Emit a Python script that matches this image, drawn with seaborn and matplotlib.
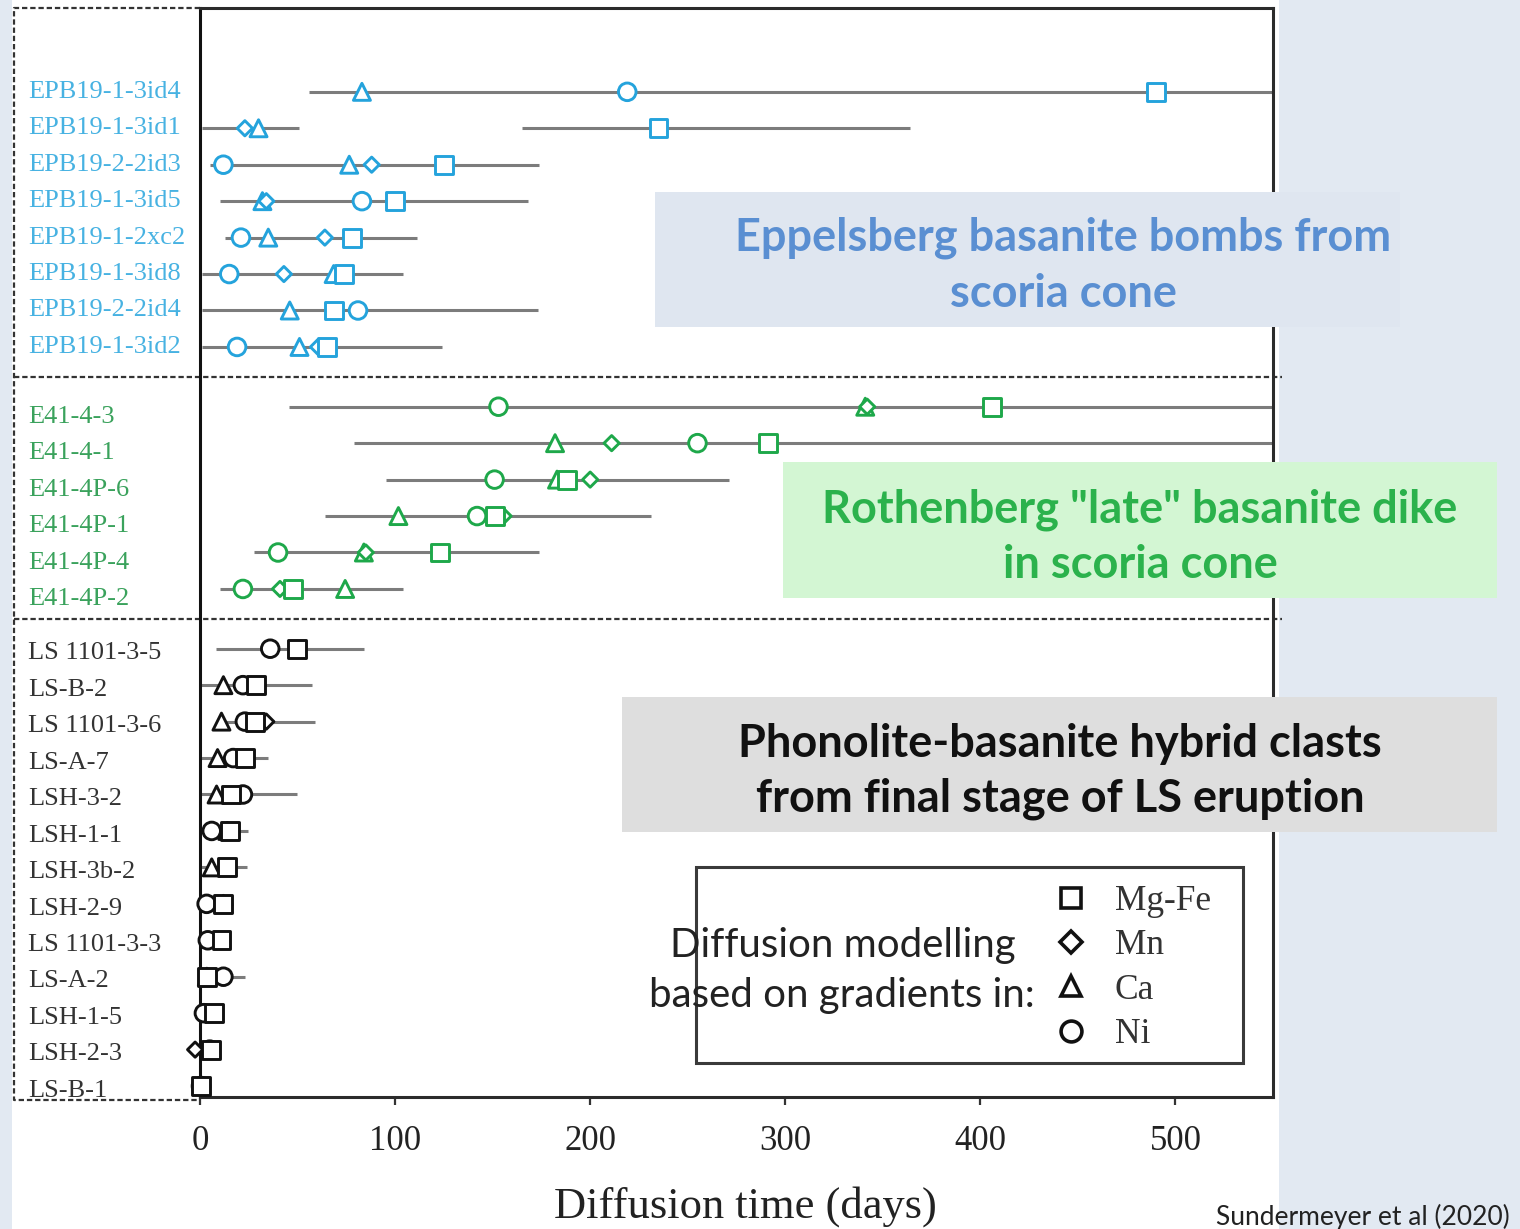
import numpy as np
import pandas as pd
import matplotlib
matplotlib.use("Agg")
import matplotlib.pyplot as plt
import matplotlib.transforms as mtransforms
from matplotlib.patches import Rectangle
from matplotlib.lines import Line2D
import seaborn as sns

nan = np.nan

# ---------------- data ----------------
samples = ["EPB19-1-3id4", "EPB19-1-3id1", "EPB19-2-2id3", "EPB19-1-3id5",
           "EPB19-1-2xc2", "EPB19-1-3id8", "EPB19-2-2id4", "EPB19-1-3id2",
           "E41-4-3", "E41-4-1", "E41-4P-6", "E41-4P-1", "E41-4P-4", "E41-4P-2",
           "LS 1101-3-5", "LS-B-2", "LS 1101-3-6", "LS-A-7", "LSH-3-2", "LSH-1-1",
           "LSH-3b-2", "LSH-2-9", "LS 1101-3-3", "LS-A-2", "LSH-1-5", "LSH-2-3", "LS-B-1"]
groups = ["Eppelsberg"] * 8 + ["Rothenberg"] * 6 + ["Phonolite"] * 13
group_order = ["Eppelsberg", "Rothenberg", "Phonolite"]

mgfe = [490, 235, 125, 100, 78, 74, 68.5, 65,
        406, 291, 188, 151, 123, 47.7,
        49.6, 28.7, 28, 23, 16, 15.4, 13.7, 12, 11, 3.5, 7, 5.5, 0.5]
mn = [nan, 23, 88, 34, 64, 43, nan, 60.5,
      342, 211, 200, 155.6, 85, 41,
      nan, nan, 34, nan, nan, nan, nan, nan, nan, nan, nan, -2.5, nan]
ca = [83, 30, 76.5, 32, 35, 68.5, 46, 51,
      341, 182, 183, 101.7, 84, 74.4,
      nan, 12, 11, 9, 8.5, 14, 6, 12, nan, 3.5, nan, nan, nan]
ni = [219, nan, 12, 83, 21, 15, 81, 19,
      153, 255, 151, 142, 40, 22,
      36, 22, 23, 17, 22, 6, nan, 3.4, 4, 12, 2, 5, 0.5]

range_lo = [56, 1, 5, 10, 13, 1, 1, 1,
            45.6, 79, 95.4, 64, 27.7, 10,
            8, 0, 9, 0, 0, 0, 0, 0, 0, 0, 0, 0, 0]
range_hi = [560, 51, 174, 168, 111, 104, 173, 124,
            560, 560, 271, 231, 174, 104,
            84, 57.4, 59, 35, 49.6, 24.6, 24, 17, 14, 23, 10, 8, 1]
range2_lo = [nan, 165] + [nan] * 25
range2_hi = [nan, 364] + [nan] * 25

elements = ["Mg-Fe", "Mn", "Ca", "Ni"]
x_ticks = [0, 100, 200, 300, 400, 500]

# ---------------- styles ----------------
marker_map = {"Mg-Fe": "s", "Mn": "D", "Ca": "^", "Ni": "o"}
size_map = {"Mg-Fe": 165, "Mn": 60, "Ca": 150, "Ni": 160}
marker_colors = {"Eppelsberg": "#24a3dc", "Rothenberg": "#1ea84a", "Phonolite": "#111111"}
label_colors = {"Eppelsberg": "#47b2e2", "Rothenberg": "#3aa25c", "Phonolite": "#333333"}
label_offsets = {"Eppelsberg": 0.0, "Rothenberg": 0.28, "Phonolite": 0.13}

W, H = 1520, 1229
def fx(px):
    return px / W
def fy(py):
    return 1 - py / H

sns.set_theme(style="white")
plt.rcParams["font.family"] = ["DejaVu Sans"]

fig = plt.figure(figsize=(W / 100, H / 100), dpi=100)
fig.patch.set_facecolor("#e2e9f2")
fig.add_artist(Rectangle((fx(12), 0), fx(1279) - fx(12), 1, transform=fig.transFigure,
                         facecolor="white", edgecolor="none", zorder=-10))

ax = fig.add_axes([fx(200), fy(1097), fx(1273) - fx(200), fy(8) - fy(1097)])
ax.set_facecolor("white")

# row positions with gaps between groups
gidx = np.array([group_order.index(g) for g in groups])
ypos = np.arange(len(samples)) + 0.64 * gidx

df = pd.DataFrame({"sample": samples, "group": groups, "y": ypos,
                   "Mg-Fe": mgfe, "Mn": mn, "Ca": ca, "Ni": ni,
                   "lo": range_lo, "hi": range_hi, "lo2": range2_lo, "hi2": range2_hi})

# range lines
ax.hlines(df["y"], df["lo"], df["hi"], color="#7c7c7c", lw=2.2, zorder=1)
seg2 = df.dropna(subset=["lo2"])
ax.hlines(seg2["y"], seg2["lo2"], seg2["hi2"], color="#7c7c7c", lw=2.2, zorder=1)

long = df.melt(id_vars=["sample", "group", "y"], value_vars=elements,
               var_name="element", value_name="time").dropna(subset=["time"])

for el in ["Ni", "Ca", "Mn", "Mg-Fe"]:
    sub = long[long["element"] == el]
    sns.scatterplot(data=sub, x="time", y="y", hue="group", palette=marker_colors,
                    marker=marker_map[el], s=size_map[el], legend=False, ax=ax,
                    clip_on=False, zorder=3)
    coll = ax.collections[-1]
    fc = coll.get_facecolors()
    coll.set_edgecolors(fc)
    coll.set_facecolors("white")
    coll.set_linewidths(2.1)

ax.set_xlim(0, 550)
ylo = ypos[-1] + 0.30
yhi = -2.30
ax.set_ylim(ylo, yhi)
ax.set_yticks([])
ax.set_ylabel("")
ax.set_xticks(x_ticks)
ax.set_xticklabels([str(t) for t in x_ticks], fontsize=25, family="Liberation Serif", color="#222222")
ax.tick_params(axis="x", direction="out", length=6, width=1.6, color="#333333", pad=14, bottom=True)
ax.set_xlabel("Diffusion time (days)", fontsize=32, family="Liberation Serif", color="#222222")
ax.xaxis.set_label_coords((745 - 200) / 1073, (1097 - 1207) / 1089)
ax.xaxis.label.set_va("center")

for sp in ax.spines.values():
    sp.set_color("#2b2b2b")
    sp.set_linewidth(2.2)
ax.spines["left"].set_color("#111111")

# sample labels
blend = mtransforms.blended_transform_factory(ax.transAxes, ax.transData)
for s, g, y in zip(samples, groups, ypos):
    ax.text(-0.1603, y + label_offsets[g], s, transform=blend, ha="left", va="center",
            fontsize=19, family="Liberation Serif", color=label_colors[g])

# dashed label box and separators
xl = (14 - 200) / 1073
dash = (0, (2.4, 1.3))
ax.plot([0, xl, xl, 0], [1, 1, -0.003, -0.003], transform=ax.transAxes, color="#333333",
        lw=1.6, ls=dash, clip_on=False)
for k in range(1, len(group_order)):
    ysep = (ypos[gidx == k - 1].max() + ypos[gidx == k].min()) / 2
    ax.plot([xl, 1.008], [ysep, ysep], transform=blend, color="#333333", lw=1.6, ls=dash,
            clip_on=False)

# annotation boxes
boxes = [
    ((655, 192, 1400, 327), "#dfe6f0", ["Eppelsberg basanite bombs from", "scoria cone"], "#5a8fd2", 1063, (238, 294)),
    ((783, 462, 1497, 598), "#d3f6d3", ["Rothenberg \"late\" basanite dike", "in scoria cone"], "#2bb24c", 1140, (510, 565)),
    ((622, 697, 1497, 832), "#dedede", ["Phonolite-basanite hybrid clasts", "from final stage of LS eruption"], "#111111", 1060, (744, 799)),
]
for (x0, y0, x1, y1), fcol, lines, tcol, tx, tys in boxes:
    fig.add_artist(Rectangle((fx(x0), fy(y1)), fx(x1) - fx(x0), fy(y0) - fy(y1),
                             transform=fig.transFigure, facecolor=fcol, edgecolor="none", zorder=5))
    for line, ty in zip(lines, tys):
        fig.text(fx(tx), fy(ty), line, ha="center", va="center", fontsize=32.5, family="Lato",
                 fontweight="bold", color=tcol, zorder=6)

# legend box
fig.add_artist(Rectangle((fx(696), fy(1063)), fx(1243) - fx(696), fy(867) - fy(1063),
                         transform=fig.transFigure, facecolor="white", edgecolor="#3a3a3a",
                         lw=2.2, zorder=5))
fig.text(fx(843), fy(945), "Diffusion modelling", ha="center", va="center", fontsize=29,
         family="Lato", color="#222222", zorder=7)
fig.text(fx(842), fy(996), "based on gradients in:", ha="center", va="center", fontsize=29,
         family="Lato", color="#222222", zorder=7)

handles = [Line2D([], [], marker=marker_map[e], ls="none", mfc="white", mec="#111111",
                  mew=2.6, ms=(15 if e != "Mn" else 11)) for e in elements]
leg = fig.legend(handles, elements, loc="center left",
                 bbox_to_anchor=(fx(1053), fy(968)), frameon=False, borderpad=0,
                 borderaxespad=0, handlelength=1.0, handletextpad=0.75, labelspacing=0.32,
                 prop={"family": "Liberation Serif", "size": 25.5})
for t in leg.get_texts():
    t.set_color("#333333")
leg.set_zorder(8)

fig.text(fx(1216), fy(1217), "Sundermeyer et al (2020)", ha="left", va="center",
         fontsize=19, family="Lato", color="#222222")

fig.savefig("out.png", dpi=100, facecolor=fig.get_facecolor())
